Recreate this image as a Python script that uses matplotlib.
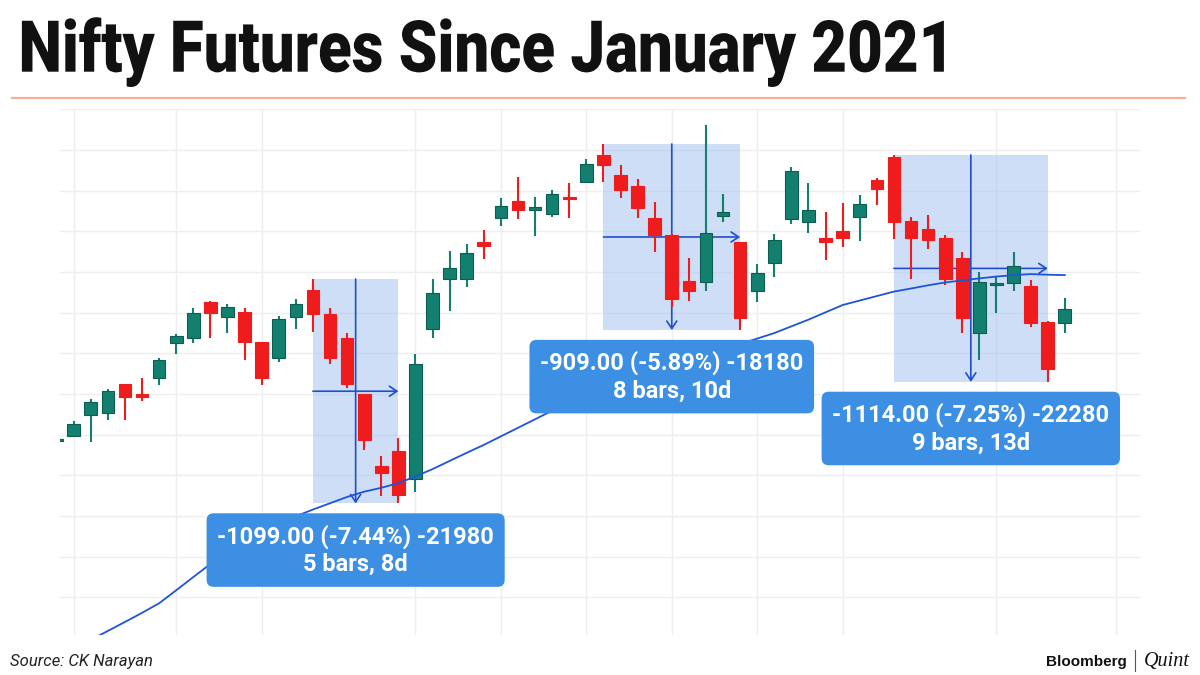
import numpy as np
import matplotlib
matplotlib.use("Agg")
import matplotlib.pyplot as plt
from matplotlib.lines import Line2D
from matplotlib.patches import Rectangle
from matplotlib.patheffects import AbstractPathEffect
from matplotlib.transforms import Affine2D

# Nifty futures bars (price units, oldest first)
opens = [14168, 14195, 14297, 14305, 14448, 14400, 14477, 14652, 14674, 14852,
         14779, 14802, 14656, 14578, 14779, 14911, 14793, 14674, 14400, 14047,
         14120, 13980, 14718, 14967, 14964, 15149, 15264, 15351, 15303, 15287,
         15367, 15444, 15576, 15479, 15422, 15264, 15182, 14956, 14951, 15277,
         15146, 14905, 15043, 15259, 15246, 15169, 15202, 15272, 15453, 15564,
         15252, 15210, 15169, 15067, 14698, 14936, 14947, 14931, 14756, 14751]
highs = [14178, 14269, 14375, 14424, 14450, 14480, 14575, 14695, 14824, 14857,
         14843, 14821, 14658, 14784, 14869, 14966, 14824, 14698, 14402, 14095,
         14182, 14595, 14964, 15103, 15138, 15207, 15365, 15466, 15367, 15403,
         15436, 15554, 15630, 15526, 15456, 15344, 15185, 15070, 15723, 15382,
         15148, 15038, 15187, 15515, 15436, 15297, 15341, 15377, 15464, 15576,
         15269, 15282, 15182, 15100, 15001, 14980, 15100, 14961, 14760, 14871]
lows = [14166, 14188, 14165, 14272, 14272, 14367, 14444, 14595, 14649, 14674,
        14701, 14567, 14444, 14556, 14720, 14703, 14547, 14431, 14124, 13900,
        13862, 13918, 14677, 14808, 14928, 15064, 15228, 15261, 15179, 15272,
        15267, 15439, 15444, 15363, 15264, 15097, 14829, 14857, 14907, 15247,
        14715, 14854, 14977, 15235, 15193, 15059, 15124, 15154, 15330, 15161,
        14966, 15113, 14936, 14701, 14567, 14797, 14908, 14731, 14460, 14698]
closes = [14176, 14251, 14362, 14413, 14385, 14384, 14567, 14685, 14797, 14800,
          14826, 14654, 14480, 14767, 14841, 14793, 14575, 14449, 14174, 14010,
          13902, 14546, 14895, 15018, 15092, 15129, 15326, 15303, 15318, 15385,
          15361, 15531, 15526, 15402, 15313, 15182, 14869, 14908, 15190, 15295,
          14772, 14994, 15157, 15497, 15305, 15149, 15169, 15334, 15408, 15247,
          15167, 15156, 14967, 14772, 14952, 14944, 15030, 14751, 14521, 14818]
# blue moving average
moving_avg = [13102, 13147, 13191, 13235, 13279, 13324, 13371, 13435, 13500, 13564,
              13625, 13684, 13731, 13765, 13799, 13832, 13863, 13894, 13920, 13939,
              13962, 13995, 14031, 14071, 14111, 14150, 14192, 14234, 14276, 14318,
              14356, 14394, 14422, 14449, 14476, 14506, 14535, 14564, 14593, 14620,
              14646, 14673, 14700, 14733, 14766, 14802, 14838, 14860, 14882, 14904,
              14919, 14935, 14949, 14959, 14969, 14978, 14985, 14990, 14987, 14985]

# measured declines: first bar, last bar, label
move_start = [15, 32, 49]
move_end = [20, 40, 58]
move_text = ["-1099.00 (-7.44%) -21980\n5 bars, 8d",
             "-909.00 (-5.89%) -18180\n8 bars, 10d",
             "-1114.00 (-7.25%) -22280\n9 bars, 13d"]

# bars where the date grid falls
grid_bars = [1, 7, 12, 21, 26, 31, 36, 41, 46, 55, 62]

UP = "#137f6e"
UP_EDGE = "#0c5e51"
DOWN = "#ee1c1c"
ARROW = "#1f4fcf"


class Squeeze(AbstractPathEffect):
    """Narrow the glyphs to a set width, like a condensed face."""
    def __init__(self, width_px):
        super().__init__()
        self.width_px = width_px

    def draw_path(self, renderer, gc, tpath, affine, rgbFace=None):
        ext = tpath.get_extents(affine)
        sx = self.width_px / ext.width
        squeeze = Affine2D().translate(-ext.x0, 0).scale(sx, 1).translate(ext.x0, 0)
        renderer.draw_path(gc, tpath, affine + squeeze, rgbFace)


fig = plt.figure(figsize=(12, 6.75), dpi=100)
fig.patch.set_facecolor("white")

fig.text(0.015, 1 - 71.7 / 675, "Nifty Futures Since January 2021",
         fontsize=51.6, family="Roboto", weight="black", color="#111111",
         va="baseline", path_effects=[Squeeze(922)])
fig.add_artist(Line2D([12 / 1200, 1185 / 1200], [1 - 98 / 675] * 2,
                      color="#f2b196", lw=1.6))

ax = fig.add_axes([60 / 1200, 1 - 635 / 675, 1080 / 1200, 526 / 675])
x = np.arange(len(opens))
o = np.array(opens)
c = np.array(closes)
rising = c >= o
colors = np.where(rising, UP, DOWN)
edges = np.where(rising, UP_EDGE, DOWN)

# shaded measurement boxes with arrows
for s, e, label in zip(move_start, move_end, move_text):
    top = highs[s]
    bot = lows[e]
    ax.add_patch(Rectangle((s, bot), e - s, top - bot, facecolor="#a4c3ef",
                           alpha=0.55, edgecolor="none", zorder=1))
    mid_x = (s + e) / 2
    mid_y = (top + bot) / 2
    ax.annotate("", xy=(mid_x, bot), xytext=(mid_x, top),
                arrowprops=dict(arrowstyle="->,head_length=0.45,head_width=0.3",
                                color=ARROW, lw=1.2, shrinkA=0, shrinkB=0,
                                mutation_scale=12), zorder=2)
    ax.annotate("", xy=(e, mid_y), xytext=(s, mid_y),
                arrowprops=dict(arrowstyle="->,head_length=0.45,head_width=0.3",
                                color=ARROW, lw=1.2, shrinkA=0, shrinkB=0,
                                mutation_scale=12), zorder=2)
    ax.annotate(label, xy=(mid_x, bot), xytext=(0, -15), textcoords="offset points",
                ha="center", va="top", fontsize=17, family="Roboto", weight="bold",
                color="white", linespacing=1.25, zorder=6,
                bbox=dict(boxstyle="round,pad=0.45,rounding_size=0.3",
                          fc="#3c8fe3", ec="none"))

# candles
ax.vlines(x, lows, highs, colors=colors, lw=1.5, zorder=3)
body = np.maximum(np.abs(c - o), 10)
ax.bar(x, body, bottom=np.minimum(o, c), width=0.74, color=colors,
       edgecolor=edges, linewidth=0.8, zorder=3.1)

ax.plot(x, moving_avg, color="#1d55d6", lw=1.3, zorder=5)

ax.set_xlim(0.2, 63.4)
ax.set_ylim(13215, 15802)
ax.set_xticks(grid_bars)
ax.set_yticks(np.arange(13400, 15801, 200))
ax.grid(color="#eeeeee", lw=1)
ax.set_axisbelow(True)
ax.tick_params(length=0, labelbottom=False, labelleft=False)
for sp in ax.spines.values():
    sp.set_visible(False)

# footer
fig.text(10 / 1200, 1 - 666 / 675, "Source: CK Narayan", fontsize=12,
         family="Roboto", style="italic", color="#222222", va="baseline")
fig.text(1127 / 1200, 1 - 666 / 675, "Bloomberg", fontsize=11,
         family="Liberation Sans", weight="bold", color="#111111",
         ha="right", va="baseline")
fig.add_artist(Line2D([1135 / 1200] * 2, [1 - 650 / 675, 1 - 671 / 675],
                      color="#555555", lw=0.8))
fig.text(1144 / 1200, 1 - 666 / 675, "Quint", fontsize=14.5,
         family="Liberation Serif", style="italic", color="#111111",
         va="baseline")

fig.savefig("out.png", dpi=100)
